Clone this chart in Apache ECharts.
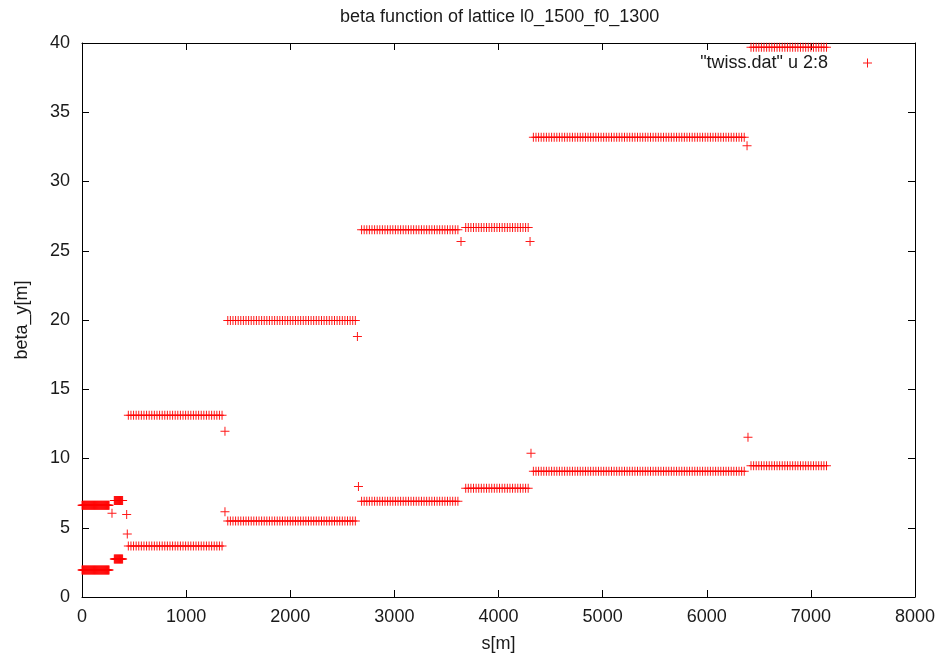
<!DOCTYPE html>
<html>
<head>
<meta charset="utf-8">
<script src="https://cdn.jsdelivr.net/npm/echarts@6/dist/echarts.min.js"></script>
<style>html,body{margin:0;padding:0;background:#fff}#c{width:941px;height:658px}</style>
</head>
<body>
<div id="c"></div>
<script>
// Element positions s[m] along each lattice section
const sA = [0,5,10,15,20,25,30,35,40,45,50,55,60,65,70,75,80,85,90,95,100,105,110,115,120,125,130,135,140,145,150,155,160,165,170,175,180,185,190,195,200,205,210,215,220,225,230,235,240,245,250,255,260];
const sB = [310,315,320,325,330,335,340,345,350,355,360,365,370,375,380,385,390];
const sC = [445,470,495,520,545,570,595,620,645,670,695,720,745,770,795,820,845,870,895,920,945,970,995,1020,1045,1070,1095,1120,1145,1170,1195,1220,1245,1270,1295,1320,1345];
const sD = [1400,1425,1450,1475,1500,1525,1550,1575,1600,1625,1650,1675,1700,1725,1750,1775,1800,1825,1850,1875,1900,1925,1950,1975,2000,2025,2050,2075,2100,2125,2150,2175,2200,2225,2250,2275,2300,2325,2350,2375,2400,2425,2450,2475,2500,2525,2550,2575,2600,2625];
const sE = [2685,2710,2735,2760,2785,2810,2835,2860,2885,2910,2935,2960,2985,3010,3035,3060,3085,3110,3135,3160,3185,3210,3235,3260,3285,3310,3335,3360,3385,3410,3435,3460,3485,3510,3535,3560,3585,3610];
const sF = [3685,3710,3735,3760,3785,3810,3835,3860,3885,3910,3935,3960,3985,4010,4035,4060,4085,4110,4135,4160,4185,4210,4235,4260,4285];
const sG = [4335,4360,4385,4410,4435,4460,4485,4510,4535,4560,4585,4610,4635,4660,4685,4710,4735,4760,4785,4810,4835,4860,4885,4910,4935,4960,4985,5010,5035,5060,5085,5110,5135,5160,5185,5210,5235,5260,5285,5310,5335,5360,5385,5410,5435,5460,5485,5510,5535,5560,5585,5610,5635,5660,5685,5710,5735,5760,5785,5810,5835,5860,5885,5910,5935,5960,5985,6010,6035,6060,6085,6110,6135,6160,6185,6210,6235,6260,6285,6310,6335,6360];
const sH = [6425,6450,6475,6500,6525,6550,6575,6600,6625,6650,6675,6700,6725,6750,6775,6800,6825,6850,6875,6900,6925,6950,6975,7000,7025,7050,7075,7100,7125,7150];

// beta_y level in each section (high and low)
const betaHigh = [6.63, 6.97, 13.12, 19.96, 26.52, 26.67, 33.2, 39.7];
const betaLow  = [1.95, 2.74, 3.68, 5.48, 6.92, 7.86, 9.08, 9.47];

// isolated points at section transitions
const matchS    = [288, 429, 435, 1373, 1373, 2645, 2655, 3640, 4303, 4312, 6387, 6396];
const matchBeta = [6.05, 5.95, 4.55, 11.96, 6.15, 18.81, 7.98, 25.66, 25.66, 10.38, 32.58, 11.53];

const xTicks = {min: 0, max: 8000, interval: 1000};
const yTicks = {min: 0, max: 40, interval: 5};

const sections = [sA, sB, sC, sD, sE, sF, sG, sH];
const data = [];
sections.forEach((arr, i) => {
  arr.forEach(s => { data.push([s, betaHigh[i]]); data.push([s, betaLow[i]]); });
});
matchS.forEach((s, i) => data.push([s, matchBeta[i]]));

const plus = 'path://M4,0H5V4H9V5H5V9H4V5H0V4H4Z';
const font = 'Liberation Sans';
const txt = '#1a1a1a';
const axisLine = {show: true, onZero: false, lineStyle: {color: '#000', width: 1}};
const tick = {show: true, inside: true, length: 7, lineStyle: {color: '#000', width: 1}};
const plain = v => String(v);

const chart = echarts.init(document.getElementById('c'));
chart.setOption({
  animation: false,
  backgroundColor: '#fff',
  title: {
    text: 'beta function of lattice l0_1500_f0_1300',
    left: 335, top: 3,
    textStyle: {fontFamily: font, fontSize: 18, fontWeight: 'normal', color: txt}
  },
  legend: {
    data: ['"twiss.dat" u 2:8'],
    right: 64, top: 49,
    align: 'right',
    itemWidth: 9, itemHeight: 9,
    icon: plus,
    formatter: n => n + '\u00a0\u00a0\u00a0\u00a0\u00a0\u00a0',
    textStyle: {fontFamily: font, fontSize: 18, color: txt}
  },
  grid: {left: 82, right: 26, top: 43, bottom: 60},
  xAxis: [{
    type: 'value', position: 'bottom', min: xTicks.min, max: xTicks.max, interval: xTicks.interval,
    name: 's[m]', nameLocation: 'middle', nameGap: 38,
    nameTextStyle: {fontFamily: font, fontSize: 18, color: txt},
    axisLine, axisTick: tick, splitLine: {show: false},
    axisLabel: {fontFamily: font, fontSize: 18, color: txt, margin: 11, formatter: plain}
  }, {
    type: 'value', position: 'top', min: xTicks.min, max: xTicks.max, interval: xTicks.interval,
    axisLine, axisTick: tick, splitLine: {show: false}, axisLabel: {show: false}
  }],
  yAxis: [{
    type: 'value', position: 'left', min: yTicks.min, max: yTicks.max, interval: yTicks.interval,
    name: 'beta_y[m]', nameLocation: 'middle', nameGap: 51, nameRotate: 90,
    nameTextStyle: {fontFamily: font, fontSize: 18, color: txt},
    axisLine, axisTick: tick, splitLine: {show: false},
    axisLabel: {fontFamily: font, fontSize: 18, color: txt, margin: 12, formatter: plain}
  }, {
    type: 'value', position: 'right', min: yTicks.min, max: yTicks.max, interval: yTicks.interval,
    axisLine, axisTick: tick, splitLine: {show: false}, axisLabel: {show: false}
  }],
  series: [{
    name: '"twiss.dat" u 2:8',
    type: 'scatter',
    symbol: plus,
    symbolSize: 9,
    itemStyle: {color: '#ff0000', opacity: 0.9},
    data: data
  }]
});
</script>
</body>
</html>
